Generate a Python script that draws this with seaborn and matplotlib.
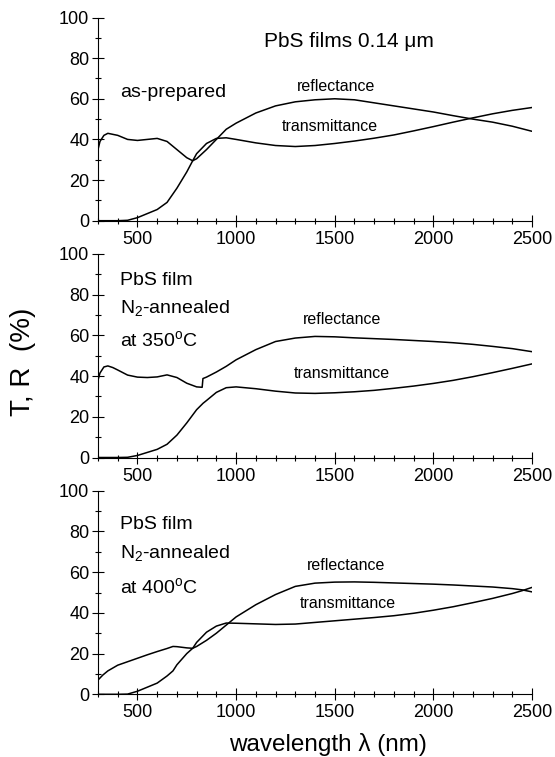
import matplotlib
matplotlib.use("Agg")
import matplotlib.pyplot as plt
from matplotlib.ticker import MultipleLocator, FixedLocator
import seaborn as sns
import pandas as pd

# ---------------- data ----------------
wl_top = [300, 310, 330, 350, 400, 450, 500, 550, 600, 650, 700, 750, 780, 800, 850, 900, 950,
          1000, 1100, 1200, 1300, 1400, 1500, 1600, 1700, 1800, 1900, 2000, 2100, 2200, 2300, 2400, 2500]
R_top = [35, 39, 42, 43, 42, 40, 39.5, 40, 40.5, 39, 35, 31, 29.5, 30.5, 35, 40, 45,
         48, 53, 56.5, 58.5, 59.5, 60, 59.5, 58, 56.5, 55, 53.5, 51.7, 50, 48.5, 46.5, 44]
T_top = [0, 0, 0, 0, 0, 0.2, 1.5, 3.5, 5.5, 9, 16, 24, 29.5, 33, 38, 40.5, 40.8,
         40, 38.3, 37, 36.5, 37, 38, 39.2, 40.6, 42.2, 44.2, 46.3, 48.5, 50.6, 52.6, 54.3, 55.7]

wl_mid = [300, 310, 330, 350, 375, 400, 450, 500, 550, 600, 650, 700, 750, 800, 828, 832, 850, 900, 950,
          1000, 1100, 1200, 1300, 1400, 1500, 1600, 1700, 1800, 1900, 2000, 2100, 2200, 2300, 2400, 2500]
R_mid = [38, 41.5, 44.5, 45, 44.2, 43, 40.5, 39.5, 39.3, 39.6, 40.6, 39.3, 36.5, 34.7, 34.5, 38.8, 39.5, 42, 44.8,
         48, 53, 57, 58.7, 59.5, 59.3, 58.8, 58.4, 58, 57.5, 57, 56.4, 55.6, 54.6, 53.5, 52]
T_mid = [0, 0, 0, 0, 0, 0, 0.1, 1, 2.5, 4, 6.5, 11, 17, 23.5, 26.2, 26.6, 28, 32, 34.3,
         34.7, 33.8, 32.6, 31.7, 31.5, 31.8, 32.3, 33, 34, 35.1, 36.4, 37.9, 39.7, 41.7, 43.8, 46]

wl_bot = [300, 325, 350, 400, 450, 500, 550, 600, 650, 680, 700, 750, 780, 800, 850, 900, 950,
          1000, 1100, 1200, 1300, 1400, 1500, 1600, 1700, 1800, 1900, 2000, 2100, 2200, 2300, 2400, 2450, 2500]
R_bot = [7, 9.5, 11.5, 14.3, 16, 17.7, 19.4, 21, 22.5, 23.5, 23.4, 22.8, 22.6, 23.5, 26.5, 30, 34,
         38, 44, 49, 53, 54.6, 55.1, 55.2, 55, 54.7, 54.4, 54.1, 53.7, 53.2, 52.7, 51.9, 51.3, 50.3]
T_bot = [0, 0, 0, 0, 0.1, 1.5, 3.5, 5.5, 9, 11.5, 14.5, 20, 22.6, 25.5, 30.5, 33.5, 35,
         34.9, 34.6, 34.3, 34.5, 35.3, 36.1, 36.9, 37.7, 38.6, 39.8, 41.3, 43, 45, 47.1, 49.5, 50.9, 52.5]

x_ticks = [500, 1000, 1500, 2000, 2500]
y_ticks = [0, 20, 40, 60, 80, 100]

panel_titles = [["as-prepared"],
                ["PbS film", "N$_2$-annealed", "at 350$^{\\mathrm{o}}$C"],
                ["PbS film", "N$_2$-annealed", "at 400$^{\\mathrm{o}}$C"]]
# ----------------------------------------------------------------

sns.set_style("ticks")
plt.rcParams['font.family'] = ['Liberation Sans', 'DejaVu Sans']
plt.rcParams['mathtext.fontset'] = 'custom'
plt.rcParams['mathtext.rm'] = 'Liberation Sans'
plt.rcParams['mathtext.it'] = 'Liberation Sans:italic'
plt.rcParams['mathtext.bf'] = 'Liberation Sans:bold'
for k in ['text.color', 'axes.labelcolor', 'xtick.color', 'ytick.color', 'axes.edgecolor']:
    plt.rcParams[k] = 'black'

fig = plt.figure(figsize=(5.55, 7.57), dpi=100)
W, H = 555, 757
left_px, right_px = 98, 532
panels_px = [(17.5, 220.7), (254, 457.5), (490.7, 694.3)]

panels = [(wl_top, R_top, T_top), (wl_mid, R_mid, T_mid), (wl_bot, R_bot, T_bot)]
label_pos = [
    {"refl": (1509, 65.9), "trans": (1476, 46.3), "text_y": [63]},
    {"refl": (1537, 67.6), "trans": (1537, 41.2), "text_y": [86.9, 73.5, 57.8]},
    {"refl": (1556, 63.5), "trans": (1565, 44.8), "text_y": [83.2, 69.6, 52.9]},
]

for i, ((wl, R, T), (top, bot)) in enumerate(zip(panels, panels_px)):
    ax = fig.add_axes([left_px / W, 1 - bot / H, (right_px - left_px) / W, (bot - top) / H])
    df = pd.DataFrame({"wavelength": wl + wl,
                       "value": R + T,
                       "series": ["reflectance"] * len(wl) + ["transmittance"] * len(wl)})
    sns.lineplot(data=df, x="wavelength", y="value", units="series", estimator=None,
                 color="black", lw=1.1, ax=ax, legend=False, sort=False)
    ax.set_xlim(300, 2500)
    ax.set_ylim(0, 100)
    ax.xaxis.set_major_locator(FixedLocator(x_ticks))
    ax.xaxis.set_minor_locator(MultipleLocator(100))
    ax.yaxis.set_major_locator(FixedLocator(y_ticks))
    ax.yaxis.set_minor_locator(MultipleLocator(10))
    ax.tick_params(which="major", direction="inout", length=8.5, width=0.8,
                   labelsize=13, pad=2, color="black", labelcolor="black")
    ax.tick_params(which="minor", direction="inout", length=4.5, width=0.8, color="black")
    ax.tick_params(axis="x", which="major", pad=3)
    for s in ["top", "right"]:
        ax.spines[s].set_visible(False)
    for s in ["left", "bottom"]:
        ax.spines[s].set_linewidth(0.8)
        ax.spines[s].set_color("black")
    ax.set_xlabel("")
    ax.set_ylabel("")

    lp = label_pos[i]
    ax.text(lp["refl"][0], lp["refl"][1], "reflectance", fontsize=11.5, ha="center", va="center", color="black")
    ax.text(lp["trans"][0], lp["trans"][1], "transmittance", fontsize=11.5, ha="center", va="center", color="black")
    for t, yv in zip(panel_titles[i], lp["text_y"]):
        ax.text(410, yv, t, fontsize=14, ha="left", va="center", color="black")
    if i == 0:
        ax.text(1572, 88, "PbS films 0.14 μm", fontsize=15, ha="center", va="center", color="black")

fig.text(23 / W, 1 - 362 / H, "T, R  (%)", rotation=90, fontsize=20, ha="center", va="center", color="black")
fig.text(327.5 / W, 1 - 745 / H, "wavelength λ (nm)", fontsize=17.5, ha="center", va="center", color="black")

fig.savefig("out.png", dpi=100)
